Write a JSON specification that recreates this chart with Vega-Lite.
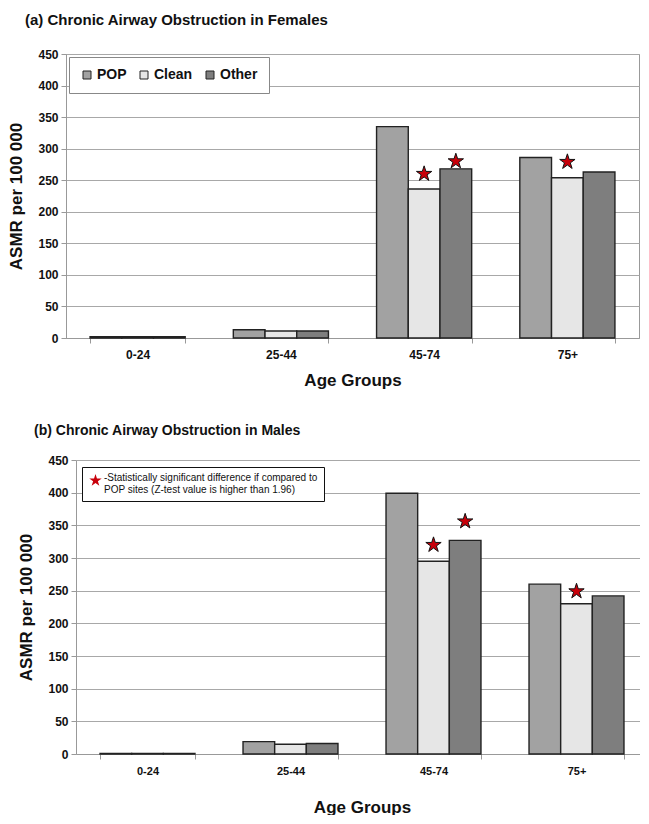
{
  "$schema": "https://vega.github.io/schema/vega-lite/v6.json",
  "background": "white",
  "padding": {"left": 7, "top": 12, "right": 0, "bottom": 0},
  "columns": 1,
  "align": "none",
  "spacing": 35,
  "resolve": {
    "scale": {"color": "independent", "shape": "independent", "x": "independent", "y": "independent", "xOffset": "independent"},
    "legend": {"color": "independent", "shape": "independent"}
  },
  "datasets": {
    "females": [
      {"age": "0-24", "site": "POP", "value": 2},
      {"age": "0-24", "site": "Clean", "value": 2},
      {"age": "0-24", "site": "Other", "value": 2},
      {"age": "25-44", "site": "POP", "value": 13},
      {"age": "25-44", "site": "Clean", "value": 11},
      {"age": "25-44", "site": "Other", "value": 11},
      {"age": "45-74", "site": "POP", "value": 335},
      {"age": "45-74", "site": "Clean", "value": 236},
      {"age": "45-74", "site": "Other", "value": 268},
      {"age": "75+", "site": "POP", "value": 286},
      {"age": "75+", "site": "Clean", "value": 254},
      {"age": "75+", "site": "Other", "value": 263}
    ],
    "femaleStars": [
      {"age": "45-74", "site": "Clean", "star": 260},
      {"age": "45-74", "site": "Other", "star": 280},
      {"age": "75+", "site": "Clean", "star": 279}
    ],
    "males": [
      {"age": "0-24", "site": "POP", "value": 1},
      {"age": "0-24", "site": "Clean", "value": 1},
      {"age": "0-24", "site": "Other", "value": 1},
      {"age": "25-44", "site": "POP", "value": 19},
      {"age": "25-44", "site": "Clean", "value": 15},
      {"age": "25-44", "site": "Other", "value": 16},
      {"age": "45-74", "site": "POP", "value": 399},
      {"age": "45-74", "site": "Clean", "value": 295},
      {"age": "45-74", "site": "Other", "value": 327},
      {"age": "75+", "site": "POP", "value": 260},
      {"age": "75+", "site": "Clean", "value": 230},
      {"age": "75+", "site": "Other", "value": 242}
    ],
    "maleStars": [
      {"age": "45-74", "site": "Clean", "star": 320, "note": "sig"},
      {"age": "45-74", "site": "Other", "star": 356, "note": "sig"},
      {"age": "75+", "site": "Clean", "star": 249, "note": "sig"}
    ]
  },
  "concat": [
    {
      "title": {"text": "(a) Chronic Airway Obstruction in Females", "fontSize": 15, "frame": "group", "dx": -41, "offset": 20},
      "width": 573,
      "height": 284,
      "view": {"stroke": "#999999", "strokeWidth": 1},
      "encoding": {
        "x": {
          "field": "age", "type": "nominal", "sort": ["0-24", "25-44", "45-74", "75+"],
          "scale": {"paddingInner": 0.336, "paddingOuter": 0.168},
          "axis": {"title": "Age Groups", "labelAngle": 0, "labelFontSize": 12, "labelPadding": 6, "titlePadding": 12, "tickBand": "extent", "tickSize": 5}
        },
        "xOffset": {"field": "site", "type": "nominal", "sort": ["POP", "Clean", "Other"], "scale": {"paddingInner": 0, "paddingOuter": 0}}
      },
      "layer": [
        {
          "data": {"name": "females"},
          "mark": {"type": "bar", "stroke": "#222222", "strokeWidth": 1.4},
          "encoding": {
            "y": {
              "field": "value", "type": "quantitative",
              "scale": {"domain": [0, 450]},
              "axis": {"title": "ASMR per 100 000", "values": [0, 50, 100, 150, 200, 250, 300, 350, 400, 450], "labelFontSize": 12, "labelPadding": 3, "tickSize": 5, "titlePadding": 12}
            },
            "color": {
              "field": "site", "type": "nominal", "sort": ["POP", "Clean", "Other"],
              "scale": {"domain": ["POP", "Clean", "Other"], "range": ["#a2a2a2", "#e6e6e6", "#7e7e7e"]},
              "legend": {
                "title": null, "orient": "top-left", "direction": "horizontal", "offset": 3,
                "symbolType": "square", "symbolSize": 64, "symbolStrokeColor": "#222222", "symbolStrokeWidth": 1, "symbolOpacity": 1,
                "labelFontSize": 14, "labelFontWeight": "bold", "labelOffset": 3, "columnPadding": 10,
                "padding": 11, "strokeColor": "#888888", "fillColor": "white"
              }
            }
          }
        },
        {
          "data": {"name": "femaleStars"},
          "mark": {"type": "point", "filled": true, "fill": "#c8000a", "stroke": "#111111", "strokeWidth": 1, "opacity": 1, "size": 260,
            "shape": "M0,-1L0.2245,-0.309L0.951,-0.309L0.3633,0.118L0.5878,0.809L0,0.382L-0.5878,0.809L-0.3633,0.118L-0.951,-0.309L-0.2245,-0.309Z"},
          "encoding": {
            "y": {
              "field": "star", "type": "quantitative",
              "scale": {"domain": [0, 450]},
              "axis": {"title": "ASMR per 100 000", "values": [0, 50, 100, 150, 200, 250, 300, 350, 400, 450], "labelFontSize": 12, "labelPadding": 3, "tickSize": 5, "titlePadding": 12}
            }
          }
        }
      ]
    },
    {
      "title": {"text": "(b) Chronic Airway Obstruction in Males", "fontSize": 14, "frame": "group", "dx": -32, "offset": 16},
      "width": 572,
      "height": 294,
      "view": {"stroke": null},
      "encoding": {
        "x": {
          "field": "age", "type": "nominal", "sort": ["0-24", "25-44", "45-74", "75+"],
          "scale": {"paddingInner": 0.336, "paddingOuter": 0.168, "range": [10, 582]},
          "axis": {"title": "Age Groups", "labelAngle": 0, "labelFontSize": 11, "labelPadding": 6, "titlePadding": 23, "tickBand": "extent", "tickSize": 5}
        },
        "xOffset": {"field": "site", "type": "nominal", "sort": ["POP", "Clean", "Other"], "scale": {"paddingInner": 0, "paddingOuter": 0}}
      },
      "layer": [
        {
          "data": {"name": "males"},
          "mark": {"type": "bar", "stroke": "#222222", "strokeWidth": 1.4},
          "encoding": {
            "y": {
              "field": "value", "type": "quantitative",
              "scale": {"domain": [0, 450]},
              "axis": {"title": "ASMR per 100 000", "offset": -10, "values": [0, 50, 100, 150, 200, 250, 300, 350, 400, 450], "labelFontSize": 12, "labelPadding": 3, "tickSize": 5, "titlePadding": 12}
            },
            "color": {
              "field": "site", "type": "nominal",
              "scale": {"domain": ["POP", "Clean", "Other"], "range": ["#a2a2a2", "#e6e6e6", "#7e7e7e"]},
              "legend": null
            }
          }
        },
        {
          "data": {"name": "maleStars"},
          "mark": {"type": "point", "filled": true, "fill": "#c8000a", "stroke": "#111111", "strokeWidth": 1, "opacity": 1, "size": 260},
          "encoding": {
            "y": {
              "field": "star", "type": "quantitative",
              "scale": {"domain": [0, 450]},
              "axis": {"title": "ASMR per 100 000", "offset": -10, "values": [0, 50, 100, 150, 200, 250, 300, 350, 400, 450], "labelFontSize": 12, "labelPadding": 3, "tickSize": 5, "titlePadding": 12}
            },
            "shape": {
              "field": "note", "type": "nominal",
              "scale": {"domain": ["sig"], "range": ["M0,-1L0.2245,-0.309L0.951,-0.309L0.3633,0.118L0.5878,0.809L0,0.382L-0.5878,0.809L-0.3633,0.118L-0.951,-0.309L-0.2245,-0.309Z"]},
              "legend": {
                "title": null, "orient": "none", "legendX": 16, "legendY": 7, "padding": 6,
                "strokeColor": "#111111", "fillColor": "white",
                "symbolFillColor": "#c8000a", "symbolStrokeColor": "#111111", "symbolSize": 170, "symbolOpacity": 1,
                "labelFont": "Liberation Sans", "labelFontSize": 10, "labelFontWeight": "normal", "labelLimit": 0, "labelOffset": 1, "labelBaseline": "alphabetic", "labelLineHeight": 15,
                "labelExpr": "['-Statistically significant difference if compared to', 'POP sites (Z-test value is higher than 1.96)']"
              }
            }
          }
        }
      ]
    }
  ],
  "config": {
    "font": "Liberation Sans",
    "title": {"anchor": "start", "font": "Liberation Sans", "fontWeight": "bold", "color": "#111111"},
    "axis": {
      "labelFont": "Liberation Sans", "labelFontWeight": "bold", "labelColor": "#111111",
      "titleFont": "Liberation Sans", "titleFontWeight": "bold", "titleFontSize": 17, "titleColor": "#111111",
      "domainColor": "#999999", "tickColor": "#999999", "gridColor": "#a8a8a8", "gridWidth": 1
    },
    "axisX": {"grid": false},
    "axisY": {"grid": true},
    "legend": {"labelFont": "Liberation Sans", "labelColor": "#111111"}
  }
}
